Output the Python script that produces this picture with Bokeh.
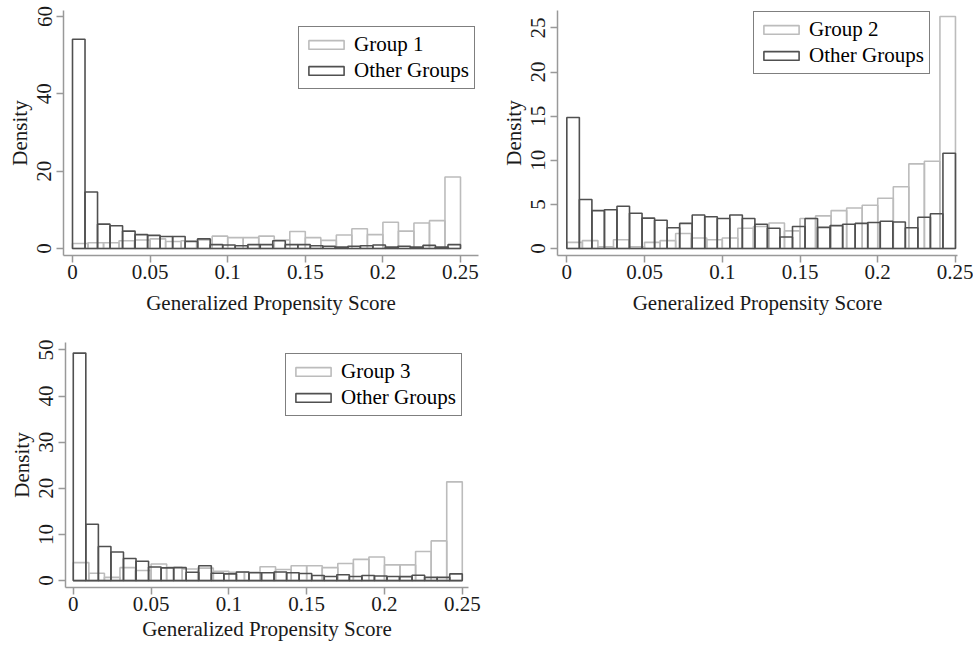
import numpy as np
from bokeh.plotting import figure
from bokeh.layouts import column, row
from bokeh.models import Range1d, FixedTicker, NumeralTickFormatter, ColumnDataSource
from bokeh.embed import file_html
from bokeh.resources import INLINE

# ---------------- data ----------------
x_ticks = [0, 0.05, 0.1, 0.15, 0.2, 0.25]
score_min = 0.0
score_max = 0.25
x_title = "Generalized Propensity Score"
y_title = "Density"
other_label = "Other Groups"

group_labels = ["Group 1", "Group 2", "Group 3"]

# Group k histograms (25 bins over 0-0.25)
group1_density = [1.3, 1.5, 1.5, 2.0, 2.2, 2.5, 1.8, 2.0, 2.2, 3.2, 2.8, 2.8, 3.2,
                  2.2, 4.4, 2.8, 2.1, 3.5, 5.1, 3.6, 6.8, 4.5, 6.6, 7.2, 18.5]
group2_density = [0.7, 0.9, 0.2, 1.0, 0.2, 0.7, 0.9, 1.7, 1.2, 1.0, 1.2, 2.3, 2.5,
                  2.9, 2.0, 3.4, 3.7, 4.3, 4.6, 4.9, 5.7, 7.0, 9.6, 9.9, 26.3]
group3_density = [3.9, 1.6, 0.7, 2.8, 2.2, 3.6, 2.9, 2.5, 2.7, 2.0, 1.8, 1.8, 3.0,
                  2.4, 3.2, 3.2, 2.8, 3.7, 4.6, 5.1, 3.4, 3.4, 6.3, 8.6, 21.4]

# Other groups histograms (31 bins over 0-0.25)
other1_density = [54.1, 14.6, 6.3, 5.9, 4.5, 3.6, 3.4, 3.1, 3.1, 1.8, 2.5, 1.0, 0.9,
                  0.7, 1.0, 1.0, 2.0, 1.0, 1.0, 0.7, 0.6, 0.35, 0.6, 0.7, 0.9, 0.4,
                  0.6, 0.4, 0.8, 0.35, 1.0]
other2_density = [14.85, 5.56, 4.3, 4.4, 4.8, 4.0, 3.45, 3.2, 2.35, 2.85, 3.8, 3.6,
                  3.4, 3.8, 3.4, 2.75, 2.3, 1.3, 2.5, 3.4, 2.4, 2.6, 2.75, 2.85, 2.95,
                  3.1, 3.0, 2.35, 3.55, 3.95, 10.8]
other3_density = [49.3, 12.2, 7.4, 6.2, 4.8, 4.2, 2.95, 2.75, 2.8, 1.8, 3.2, 1.6, 1.45,
                  1.85, 1.7, 1.7, 1.85, 1.7, 1.55, 1.1, 0.9, 1.25, 0.9, 1.1, 1.0, 0.9,
                  0.85, 1.15, 0.7, 0.7, 1.45]

y_ticks_1 = [0, 20, 40, 60]
y_ticks_2 = [0, 5, 10, 15, 20, 25]
y_ticks_3 = [0, 10, 20, 30, 40, 50]

# ---------------- style ----------------
FONT = "Liberation Serif"
LIGHT = "#bcbcbc"
DARK = "#505050"
AXIS = "#999999"
TEXT = "#1a1a1a"
FS = "21px"


def hist_source(dens):
    edges = np.linspace(score_min, score_max, len(dens) + 1)
    return ColumnDataSource(dict(left=edges[:-1], right=edges[1:],
                                 top=list(dens), bottom=[0] * len(dens)))


def make_panel(group_label, g_dens, o_dens, y_ticks, xr, yr, fw, fh,
               bl, br, bt, bb, leg_xy, title_standoff):
    p = figure(frame_width=fw, frame_height=fh,
               min_border_left=bl, min_border_right=br,
               min_border_top=bt, min_border_bottom=bb,
               x_range=Range1d(*xr), y_range=Range1d(*yr),
               output_backend="svg", toolbar_location=None,
               background_fill_color="white", border_fill_color="white")
    p.xgrid.visible = False
    p.ygrid.visible = False
    p.outline_line_color = None

    p.quad(left="left", right="right", top="top", bottom="bottom",
           source=hist_source(g_dens), fill_color=None,
           line_color=LIGHT, line_width=1.6, legend_label=group_label)
    p.quad(left="left", right="right", top="top", bottom="bottom",
           source=hist_source(o_dens), fill_color=None,
           line_color=DARK, line_width=1.6, legend_label=other_label)

    p.xaxis.ticker = FixedTicker(ticks=x_ticks)
    p.xaxis.formatter = NumeralTickFormatter(format="0.[00]")
    p.yaxis.ticker = FixedTicker(ticks=y_ticks)
    p.yaxis.major_label_orientation = "vertical"
    p.xaxis.axis_label = x_title
    p.yaxis.axis_label = y_title
    for ax in (p.xaxis, p.yaxis):
        ax.axis_line_color = AXIS
        ax.axis_line_width = 1.5
        ax.major_tick_line_color = AXIS
        ax.major_tick_line_width = 1.5
        ax.major_tick_out = 7
        ax.major_tick_in = 0
        ax.minor_tick_line_color = None
        ax.major_label_text_font = FONT
        ax.major_label_text_font_size = FS
        ax.major_label_text_color = TEXT
        ax.axis_label_text_font = FONT
        ax.axis_label_text_font_size = FS
        ax.axis_label_text_font_style = "normal"
        ax.axis_label_text_color = TEXT
    p.xaxis.major_label_standoff = 2
    p.xaxis.axis_label_standoff = title_standoff
    p.yaxis.major_label_standoff = 5
    p.yaxis.axis_label_standoff = 3

    lg = p.legend[0]
    lg.location = leg_xy
    lg.label_text_font = FONT
    lg.label_text_font_size = FS
    lg.label_text_color = "black"
    lg.border_line_color = "black"
    lg.border_line_width = 1
    lg.background_fill_color = "white"
    lg.background_fill_alpha = 1.0
    lg.glyph_width = 44
    lg.glyph_height = 11
    lg.label_standoff = 6
    lg.padding = 5
    lg.spacing = 1
    lg.margin = 0
    return p


p1 = make_panel(group_labels[0], group1_density, other1_density, y_ticks_1,
                (-0.0058, 0.2616), (-1.81, 61.55), 415, 245,
                63, 12, 10, 70, (235, 166), 9)
p2 = make_panel(group_labels[1], group2_density, other2_density, y_ticks_2,
                (-0.006, 0.2513), (-0.79, 26.98), 400, 245,
                67, 16, 10, 70, (196, 181), 9)
p3 = make_panel(group_labels[2], group3_density, other3_density, y_ticks_3,
                (-0.005, 0.254), (-1.5, 51.6), 403, 245,
                65, 20, 17, 59, (220, 171), 3)

layout = column(row(p1, p2), p3)

open("out.html", "w").write(file_html(layout, INLINE))
